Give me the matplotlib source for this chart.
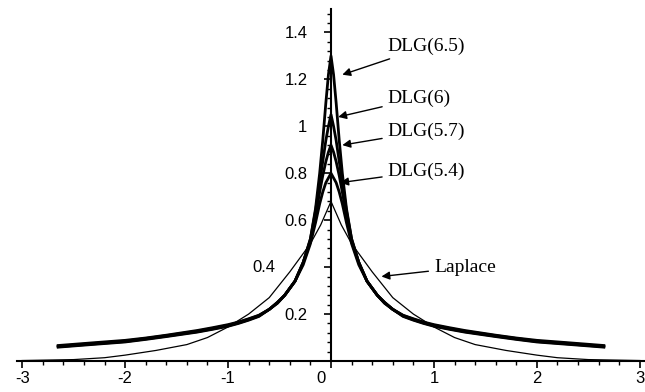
import matplotlib
matplotlib.use('Agg')
import matplotlib.pyplot as plt
import matplotlib.transforms as mtransforms
import numpy as np

# Dane
x_dlg = [-2.65, -2.3, -2.0, -1.8, -1.6, -1.3, -1.15, -1.0, -0.9, -0.8, -0.7, -0.6, -0.52,
         -0.45, -0.35, -0.27, -0.2, -0.15, -0.11, -0.08, -0.05, -0.025, 0.0,
         0.025, 0.05, 0.08, 0.11, 0.15, 0.2, 0.27, 0.35, 0.45, 0.52, 0.6, 0.7, 0.8,
         0.9, 1.0, 1.15, 1.3, 1.6, 1.8, 2.0, 2.3, 2.65]

dlg_65 = [0.066, 0.078, 0.088, 0.098, 0.11, 0.13, 0.142, 0.155, 0.166, 0.18, 0.195, 0.22, 0.25,
          0.28, 0.34, 0.42, 0.52, 0.65, 0.80, 0.94, 1.10, 1.22, 1.30,
          1.22, 1.10, 0.94, 0.80, 0.65, 0.52, 0.42, 0.34, 0.28, 0.25, 0.22, 0.195, 0.18,
          0.166, 0.155, 0.142, 0.13, 0.11, 0.098, 0.088, 0.078, 0.066]
dlg_6 = [0.063, 0.075, 0.085, 0.096, 0.108, 0.127, 0.139, 0.152, 0.164, 0.178, 0.194, 0.22, 0.25,
         0.28, 0.34, 0.42, 0.52, 0.64, 0.76, 0.85, 0.94, 1.00, 1.05,
         1.00, 0.94, 0.85, 0.76, 0.64, 0.52, 0.42, 0.34, 0.28, 0.25, 0.22, 0.194, 0.178,
         0.164, 0.152, 0.139, 0.127, 0.108, 0.096, 0.085, 0.075, 0.063]
dlg_57 = [0.061, 0.073, 0.083, 0.094, 0.106, 0.125, 0.137, 0.15, 0.162, 0.176, 0.192, 0.22, 0.248,
          0.28, 0.34, 0.42, 0.51, 0.62, 0.72, 0.79, 0.85, 0.89, 0.92,
          0.89, 0.85, 0.79, 0.72, 0.62, 0.51, 0.42, 0.34, 0.28, 0.248, 0.22, 0.192, 0.176,
          0.162, 0.15, 0.137, 0.125, 0.106, 0.094, 0.083, 0.073, 0.061]
dlg_54 = [0.059, 0.071, 0.081, 0.092, 0.104, 0.123, 0.135, 0.148, 0.16, 0.174, 0.19, 0.22, 0.246,
          0.28, 0.34, 0.41, 0.50, 0.59, 0.67, 0.72, 0.76, 0.78, 0.80,
          0.78, 0.76, 0.72, 0.67, 0.59, 0.50, 0.41, 0.34, 0.28, 0.246, 0.22, 0.19, 0.174,
          0.16, 0.148, 0.135, 0.123, 0.104, 0.092, 0.081, 0.071, 0.059]

x_lap = [-3.0, -2.5, -2.2, -2.0, -1.7, -1.4, -1.2, -1.0, -0.8, -0.6, -0.4, -0.3, -0.2,
         -0.1, 0.0, 0.1, 0.2, 0.3, 0.4, 0.6, 0.8, 1.0, 1.2, 1.4, 1.7, 2.0, 2.2, 2.5, 3.0]
laplace = [0.002, 0.006, 0.014, 0.025, 0.045, 0.07, 0.10, 0.145, 0.20, 0.27, 0.38, 0.44, 0.50,
           0.58, 0.68, 0.58, 0.50, 0.44, 0.38, 0.27, 0.20, 0.145, 0.10, 0.07, 0.045, 0.025,
           0.014, 0.006, 0.002]

x_ticks = [-3, -2, -1, 0, 1, 2, 3]
x_tick_labels = ['-3', '-2', '-1', '0', '1', '2', '3']
y_ticks = [0.2, 0.4, 0.6, 0.8, 1.0, 1.2, 1.4]
y_tick_labels = ['0.2', '', '0.6', '0.8', '1', '1.2', '1.4']

# etykiety: tekst, pozycja tekstu, grot strzalki
labels = ['DLG(6.5)', 'DLG(6)', 'DLG(5.7)', 'DLG(5.4)', 'Laplace']
label_xy = [(0.55, 1.34), (0.55, 1.12), (0.55, 0.98), (0.55, 0.81), (1.0, 0.40)]
arrow_xy = [(0.11, 1.22), (0.07, 1.04), (0.11, 0.92), (0.09, 0.76), (0.49, 0.36)]

fig = plt.figure(figsize=(6.45, 3.92), dpi=100)
ax = fig.add_axes([17 / 645, 31 / 392, 628 / 645, 352 / 392])

for ys in [dlg_54, dlg_57, dlg_6, dlg_65]:
    ax.plot(x_dlg, ys, color='black', linewidth=2.0, solid_joinstyle='round')
ax.plot(x_lap, laplace, color='black', linewidth=0.9)

ax.set_xlim(-3.05, 3.05)
ax.set_ylim(0, 1.5)

ax.spines['left'].set_position(('data', 0))
ax.spines['bottom'].set_position(('data', 0))
ax.spines['top'].set_visible(False)
ax.spines['right'].set_visible(False)
ax.spines['left'].set_linewidth(1.5)
ax.spines['bottom'].set_linewidth(1.5)

ax.set_xticks(x_ticks)
ax.set_xticklabels(x_tick_labels, fontfamily='Liberation Sans', fontsize=12)
ax.set_xticks(np.arange(-3, 3.01, 0.2), minor=True)
ax.set_yticks(y_ticks)
ax.set_yticklabels(y_tick_labels, fontfamily='Liberation Sans', fontsize=12)
ax.set_yticks(np.arange(0.04, 1.5, 0.04), minor=True)
ax.tick_params(axis='x', which='major', length=5, width=1.2, pad=2)
ax.tick_params(axis='x', which='minor', length=3, width=1)
ax.tick_params(axis='y', which='major', length=5, width=1.2, pad=12)
ax.tick_params(axis='y', which='minor', length=3, width=1)

# przesuniecie etykiety "0" w lewo, jak w oryginale
for lbl in ax.get_xticklabels():
    if lbl.get_text() == '0':
        lbl.set_transform(lbl.get_transform() +
                          mtransforms.ScaledTranslation(-10 / 100, 0, fig.dpi_scale_trans))

ax.text(-0.54, 0.4, '0.4', ha='right', va='center', fontfamily='Liberation Sans', fontsize=12)

for txt, pos, tip in zip(labels, label_xy, arrow_xy):
    ax.annotate(txt, xy=tip, xytext=pos, ha='left', va='center',
                fontfamily='Liberation Serif', fontsize=14,
                arrowprops=dict(arrowstyle='-|>', color='black', lw=1,
                                mutation_scale=12, shrinkA=2, shrinkB=0))

fig.savefig('out.png', dpi=100)
